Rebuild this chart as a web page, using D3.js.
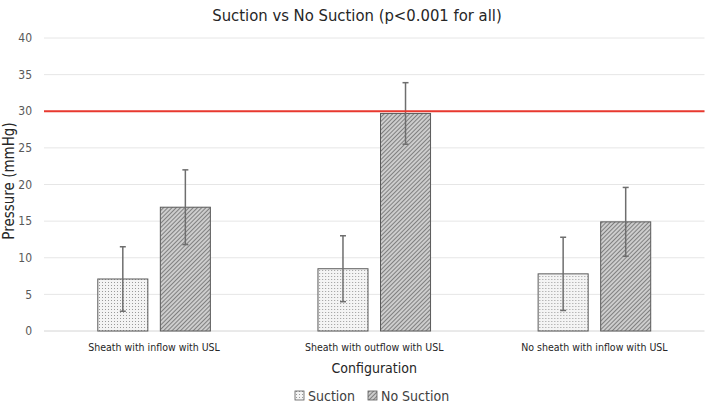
<!DOCTYPE html>
<html>
<head>
<meta charset="utf-8">
<script src="https://cdn.jsdelivr.net/npm/d3@7"></script>
<style>
  body { margin: 0; background: #fff; }
  svg { display: block; }
  text { font-family: "Liberation Sans Narrow", "DejaVu Sans Condensed", "Liberation Sans", sans-serif; font-stretch: condensed; }
</style>
</head>
<body>
<svg id="chart" width="709" height="406"></svg>
<script>
// chart data
const categories = ["Sheath with inflow with USL", "Sheath with outflow with USL", "No sheath with inflow with USL"];
const series = ["Suction", "No Suction"];
const suction_values = [7.1, 8.5, 7.8];
const suction_errors = [4.4, 4.5, 5.0];
const nosuction_values = [16.9, 29.7, 14.9];
const nosuction_errors = [5.1, 4.2, 4.7];
const y_ticks = [0, 5, 10, 15, 20, 25, 30, 35, 40];
const threshold = 30;

const svg = d3.select("#chart");
const margin = {top: 38, right: 4.5, bottom: 75, left: 44};
const width = 709 - margin.left - margin.right;
const height = 406 - margin.top - margin.bottom;

// patterns for the bars
const defs = svg.append("defs");
const dots = defs.append("pattern").attr("id", "dots").attr("patternUnits", "userSpaceOnUse")
    .attr("width", 3).attr("height", 3);
dots.append("rect").attr("width", 3).attr("height", 3).attr("fill", "#f4f4f4");
dots.append("rect").attr("x", 1).attr("y", 1).attr("width", 1).attr("height", 1).attr("fill", "#9a9a9a");

const hatch = defs.append("pattern").attr("id", "hatch").attr("patternUnits", "userSpaceOnUse")
    .attr("width", 3).attr("height", 3).attr("patternTransform", "rotate(45)");
hatch.append("rect").attr("width", 3).attr("height", 3).attr("fill", "#cdcdcd");
hatch.append("line").attr("x1", 0).attr("y1", 0).attr("x2", 0).attr("y2", 3)
    .attr("stroke", "#666").attr("stroke-width", 1.5);

const fills = {"Suction": "url(#dots)", "No Suction": "url(#hatch)"};

const g = svg.append("g").attr("transform", "translate(" + margin.left + "," + margin.top + ")");

const x0 = d3.scaleBand().domain(categories).range([0, width]).padding(0);
const x1 = d3.scaleBand().domain(series).range([0, x0.bandwidth()]).paddingInner(0.2).paddingOuter(0.86);
const y = d3.scaleLinear().domain([0, 40]).range([height, 0]);

// gridlines
g.append("g").selectAll("line").data(y_ticks).enter().append("line")
    .attr("x1", 0).attr("x2", width)
    .attr("y1", d => y(d)).attr("y2", d => y(d))
    .attr("stroke", d => d === 0 ? "#d4d4d4" : "#e6e6e6").attr("stroke-width", 1);

// y tick labels
g.append("g").selectAll("text").data(y_ticks).enter().append("text")
    .attr("x", -12).attr("y", d => y(d)).attr("dy", "0.35em")
    .attr("text-anchor", "end").attr("fill", "#595959").style("font-size", "12px")
    .text(d => d);

// bars
const rows = categories.map((c, i) => ({
    cat: c,
    vals: [
        {s: "Suction", v: suction_values[i], e: suction_errors[i]},
        {s: "No Suction", v: nosuction_values[i], e: nosuction_errors[i]}
    ]
}));

const groups = g.selectAll(".grp").data(rows).enter().append("g")
    .attr("class", "grp").attr("transform", d => "translate(" + x0(d.cat) + ",0)");

groups.selectAll("rect").data(d => d.vals).enter().append("rect")
    .attr("x", d => x1(d.s)).attr("width", x1.bandwidth())
    .attr("y", d => y(d.v)).attr("height", d => y(0) - y(d.v))
    .attr("fill", d => fills[d.s]).attr("stroke", "#5a5a5a").attr("stroke-width", 1);

// error bars
const eb = groups.selectAll(".err").data(d => d.vals).enter().append("g").attr("class", "err");
eb.append("line")
    .attr("x1", d => x1(d.s) + x1.bandwidth() / 2).attr("x2", d => x1(d.s) + x1.bandwidth() / 2)
    .attr("y1", d => y(d.v + d.e)).attr("y2", d => y(d.v - d.e))
    .attr("stroke", "#6e6e6e").attr("stroke-width", 1.5);
eb.selectAll(".cap").data(d => [{d: d, k: d.v + d.e}, {d: d, k: d.v - d.e}]).enter().append("line")
    .attr("x1", c => x1(c.d.s) + x1.bandwidth() / 2 - 3).attr("x2", c => x1(c.d.s) + x1.bandwidth() / 2 + 3)
    .attr("y1", c => y(c.k)).attr("y2", c => y(c.k))
    .attr("stroke", "#6e6e6e").attr("stroke-width", 1.5);

// red threshold line
g.append("line").attr("x1", 0).attr("x2", width)
    .attr("y1", y(threshold)).attr("y2", y(threshold))
    .attr("stroke", "#e8392f").attr("stroke-width", 2);

// category labels
g.append("g").selectAll("text").data(categories).enter().append("text")
    .attr("x", d => x0(d) + x0.bandwidth() / 2).attr("y", height + 20)
    .attr("text-anchor", "middle").attr("fill", "#262626").style("font-size", "10.5px")
    .text(d => d);

// axis titles
svg.append("text").attr("x", margin.left + width / 2).attr("y", 373)
    .attr("text-anchor", "middle").attr("fill", "#262626").style("font-size", "14px")
    .text("Configuration");
svg.append("text").attr("transform", "translate(14,181) rotate(-90)")
    .attr("text-anchor", "middle").attr("fill", "#262626").style("font-size", "15px")
    .text("Pressure (mmHg)");

// title
svg.append("text").attr("x", 357).attr("y", 21)
    .attr("text-anchor", "middle").attr("fill", "#262626").style("font-size", "16.5px")
    .text("Suction vs No Suction (p<0.001 for all)");

// legend
const legendX = [295, 368];
const legend = svg.append("g").selectAll("g").data(series).enter().append("g")
    .attr("transform", (d, i) => "translate(" + legendX[i] + ",396)");
legend.append("rect").attr("x", 0).attr("y", -5).attr("width", 9).attr("height", 9)
    .attr("fill", d => fills[d]).attr("stroke", "#5a5a5a").attr("stroke-width", 0.8);
legend.append("text").attr("x", 13).attr("y", 0).attr("dy", "0.35em")
    .attr("fill", "#404040").style("font-size", "14px")
    .text(d => d);
</script>
</body>
</html>
